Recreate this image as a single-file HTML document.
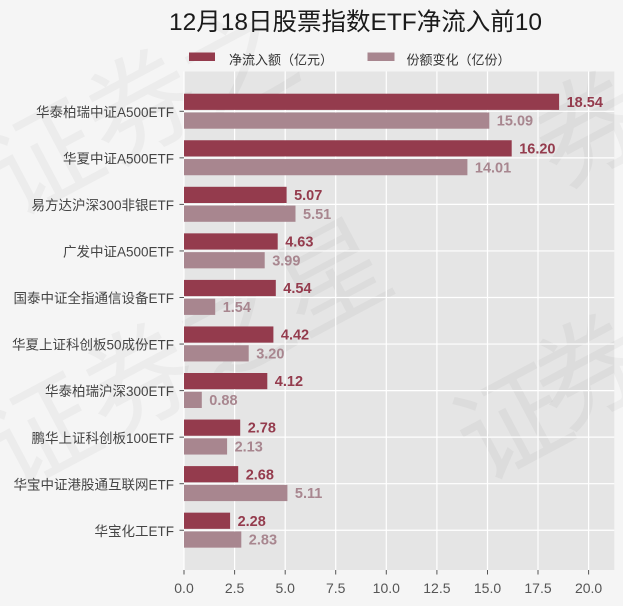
<!DOCTYPE html>
<html><head><meta charset="utf-8"><style>
html,body{margin:0;padding:0;background:#f5f5f5;width:623px;height:606px;overflow:hidden;}
svg{display:block;overflow:hidden;}
text{font-family:"Liberation Sans","Noto Sans CJK SC",sans-serif;}
</style></head><body>
<svg width="623" height="606" viewBox="0 0 623 606" xmlns="http://www.w3.org/2000/svg">
<rect x="0" y="0" width="623" height="606" fill="#f5f5f5"/>
<!-- plot area -->
<rect x="184" y="71.5" width="430.3" height="498.5" fill="#e5e5e5"/>
<!-- watermark -->
<g fill="#000" fill-opacity="0.035" font-size="110" text-anchor="middle" dominant-baseline="central">
<text transform="translate(45,160) rotate(-28)">证</text>
<text transform="translate(142,108) rotate(-28)">券</text>
<text transform="translate(239,66) rotate(-28)">之</text>
<text transform="translate(42,434) rotate(-28)">证</text>
<text transform="translate(139,382) rotate(-28)">券</text>
<text transform="translate(236,330) rotate(-28)">之</text>
<text transform="translate(333,278) rotate(-28)">星</text>
<text transform="translate(513,425) rotate(-28)">证</text>
<text transform="translate(590,373) rotate(-28)">券</text>
<text transform="translate(590,130) rotate(-28)">券</text>
</g>
<!-- grid -->
<g stroke="#ffffff" stroke-width="1.2">
<line x1="184" y1="71.5" x2="184" y2="570"/>
<line x1="234.6" y1="71.5" x2="234.6" y2="570"/>
<line x1="285.2" y1="71.5" x2="285.2" y2="570"/>
<line x1="335.7" y1="71.5" x2="335.7" y2="570"/>
<line x1="386.3" y1="71.5" x2="386.3" y2="570"/>
<line x1="436.9" y1="71.5" x2="436.9" y2="570"/>
<line x1="487.5" y1="71.5" x2="487.5" y2="570"/>
<line x1="538" y1="71.5" x2="538" y2="570"/>
<line x1="588.6" y1="71.5" x2="588.6" y2="570"/>
<line x1="184" y1="111.3" x2="614.3" y2="111.3"/>
<line x1="184" y1="157.85" x2="614.3" y2="157.85"/>
<line x1="184" y1="204.4" x2="614.3" y2="204.4"/>
<line x1="184" y1="250.95" x2="614.3" y2="250.95"/>
<line x1="184" y1="297.5" x2="614.3" y2="297.5"/>
<line x1="184" y1="344.05" x2="614.3" y2="344.05"/>
<line x1="184" y1="390.6" x2="614.3" y2="390.6"/>
<line x1="184" y1="437.15" x2="614.3" y2="437.15"/>
<line x1="184" y1="483.7" x2="614.3" y2="483.7"/>
<line x1="184" y1="530.25" x2="614.3" y2="530.25"/>
</g>
<!-- bars -->
<g fill="#943b4d">
<rect x="184" y="93.7" width="375.1" height="16.2"/>
<rect x="184" y="140.25" width="327.7" height="16.2"/>
<rect x="184" y="186.8" width="102.6" height="16.2"/>
<rect x="184" y="233.35" width="93.7" height="16.2"/>
<rect x="184" y="279.9" width="91.8" height="16.2"/>
<rect x="184" y="326.45" width="89.4" height="16.2"/>
<rect x="184" y="373" width="83.3" height="16.2"/>
<rect x="184" y="419.55" width="56.2" height="16.2"/>
<rect x="184" y="466.1" width="54.2" height="16.2"/>
<rect x="184" y="512.65" width="46.1" height="16.2"/>
</g>
<g fill="#a8868f">
<rect x="184" y="112.5" width="305.3" height="16.2"/>
<rect x="184" y="159.05" width="283.4" height="16.2"/>
<rect x="184" y="205.6" width="111.5" height="16.2"/>
<rect x="184" y="252.15" width="80.7" height="16.2"/>
<rect x="184" y="298.7" width="31.2" height="16.2"/>
<rect x="184" y="345.25" width="64.7" height="16.2"/>
<rect x="184" y="391.8" width="17.8" height="16.2"/>
<rect x="184" y="438.35" width="43.1" height="16.2"/>
<rect x="184" y="484.9" width="103.4" height="16.2"/>
<rect x="184" y="531.45" width="57.3" height="16.2"/>
</g>
<!-- value labels -->
<g font-size="14.5" font-weight="bold" fill="#943b4d">
<text x="566.6" y="107">18.54</text>
<text x="519.2" y="153.5">16.20</text>
<text x="294.1" y="200">5.07</text>
<text x="285.2" y="246.6">4.63</text>
<text x="283.3" y="293.1">4.54</text>
<text x="280.9" y="339.6">4.42</text>
<text x="274.8" y="386.2">4.12</text>
<text x="247.7" y="432.7">2.78</text>
<text x="245.7" y="479.3">2.68</text>
<text x="237.6" y="525.8">2.28</text>
</g>
<g font-size="14.5" font-weight="bold" fill="#a8868f">
<text x="496.8" y="125.7">15.09</text>
<text x="474.9" y="172.3">14.01</text>
<text x="303" y="218.8">5.51</text>
<text x="272.2" y="265.4">3.99</text>
<text x="222.7" y="311.9">1.54</text>
<text x="256.2" y="358.5">3.20</text>
<text x="209.3" y="405">0.88</text>
<text x="234.6" y="451.6">2.13</text>
<text x="294.9" y="498.1">5.11</text>
<text x="248.8" y="544.7">2.83</text>
</g>
<!-- y ticks -->
<g stroke="#555" stroke-width="1">
<line x1="179.5" y1="111.3" x2="184" y2="111.3"/>
<line x1="179.5" y1="157.85" x2="184" y2="157.85"/>
<line x1="179.5" y1="204.4" x2="184" y2="204.4"/>
<line x1="179.5" y1="250.95" x2="184" y2="250.95"/>
<line x1="179.5" y1="297.5" x2="184" y2="297.5"/>
<line x1="179.5" y1="344.05" x2="184" y2="344.05"/>
<line x1="179.5" y1="390.6" x2="184" y2="390.6"/>
<line x1="179.5" y1="437.15" x2="184" y2="437.15"/>
<line x1="179.5" y1="483.7" x2="184" y2="483.7"/>
<line x1="179.5" y1="530.25" x2="184" y2="530.25"/>
</g>
<g font-size="13.5" fill="#444" text-anchor="end">
<text x="174" y="117">华泰柏瑞中证A500ETF</text>
<text x="174" y="163.5">华夏中证A500ETF</text>
<text x="174" y="210">易方达沪深300非银ETF</text>
<text x="174" y="256.6">广发中证A500ETF</text>
<text x="174" y="303.1">国泰中证全指通信设备ETF</text>
<text x="174" y="349.7">华夏上证科创板50成份ETF</text>
<text x="174" y="396.2">华泰柏瑞沪深300ETF</text>
<text x="174" y="442.8">鹏华上证科创板100ETF</text>
<text x="174" y="489.3">华宝中证港股通互联网ETF</text>
<text x="174" y="535.9">华宝化工ETF</text>
</g>
<!-- x ticks -->
<g stroke="#555" stroke-width="1">
<line x1="184" y1="570" x2="184" y2="574.5"/>
<line x1="234.6" y1="570" x2="234.6" y2="574.5"/>
<line x1="285.2" y1="570" x2="285.2" y2="574.5"/>
<line x1="335.7" y1="570" x2="335.7" y2="574.5"/>
<line x1="386.3" y1="570" x2="386.3" y2="574.5"/>
<line x1="436.9" y1="570" x2="436.9" y2="574.5"/>
<line x1="487.5" y1="570" x2="487.5" y2="574.5"/>
<line x1="538" y1="570" x2="538" y2="574.5"/>
<line x1="588.6" y1="570" x2="588.6" y2="574.5"/>
</g>
<g font-size="14" fill="#555" text-anchor="middle">
<text x="184" y="593">0.0</text>
<text x="234.6" y="593">2.5</text>
<text x="285.2" y="593">5.0</text>
<text x="335.7" y="593">7.5</text>
<text x="386.3" y="593">10.0</text>
<text x="436.9" y="593">12.5</text>
<text x="487.5" y="593">15.0</text>
<text x="538" y="593">17.5</text>
<text x="588.6" y="593">20.0</text>
</g>
<!-- legend -->
<rect x="189" y="52.5" width="26" height="8.5" fill="#943b4d"/>
<text x="229" y="64.5" font-size="13" fill="#333">净流入额（亿元）</text>
<rect x="367.5" y="52.5" width="27" height="8.5" fill="#a8868f"/>
<text x="406.5" y="64.5" font-size="13" fill="#333">份额变化（亿份）</text>
<!-- title -->
<text x="355.5" y="30" font-size="24.5" fill="#1a1a1a" text-anchor="middle">12月18日股票指数ETF净流入前10</text>
</svg>
</body></html>
